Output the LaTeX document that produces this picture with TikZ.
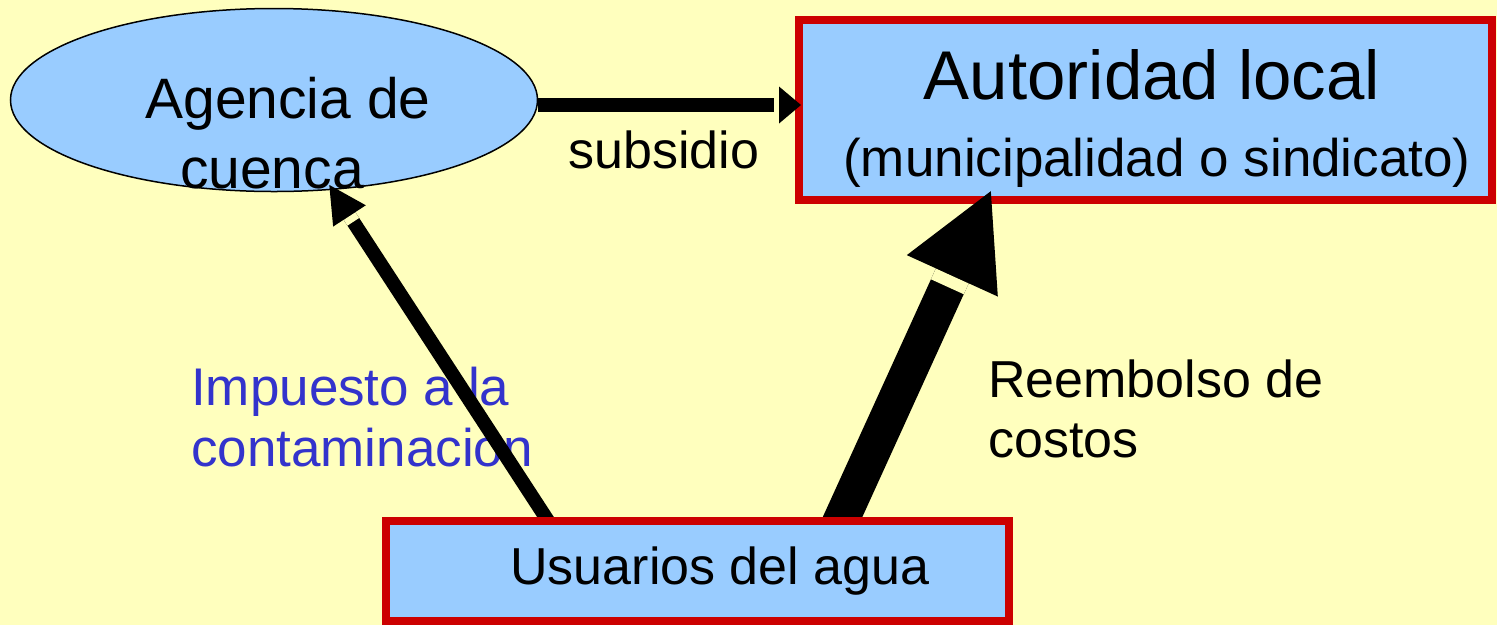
\documentclass[tikz,border=0pt]{standalone}
\usepackage{fontspec}
\setmainfont{Liberation Sans}
\usepackage{tikz}
\usetikzlibrary{positioning, arrows.meta, shapes.geometric}

\definecolor{fondo}{HTML}{FFFFBE}
\definecolor{celeste}{HTML}{99CCFF}
\definecolor{rojo}{HTML}{CC0000}
\definecolor{azul}{HTML}{3333CC}

\pgfdeclarelayer{arriba}
\pgfsetlayers{main,arriba}

\begin{document}
\begin{tikzpicture}[x=1pt, y=-1pt,
    box/.style={draw=rojo, line width=8pt, fill=celeste, inner sep=0pt},
    elip/.style={ellipse, draw, line width=1.5pt, fill=celeste, inner sep=0pt},
    txt/.style={inner sep=0pt, font=\fontsize{52}{60}\selectfont, align=left}]
    \useasboundingbox[fill=fondo] (0,0) rectangle (1497,625);

    \node[elip, minimum width=527pt, minimum height=183pt] (age) at (274,100) {};
    \node[txt, align=center, font=\fontsize{57}{70}\selectfont] (agetxt) at (288,133)
        {Agencia de\\cuenca\hspace*{32pt}};

    \node[box, minimum width=693pt, minimum height=180pt] (aut) at (1145.5,110) {};
    \node[txt, font=\fontsize{69}{80}\selectfont] (autl) at (1152,75)
        {Autoridad local};
    \node[txt, font=\fontsize{53}{60}\selectfont] (autm) at (1157,163)
        {(municipalidad o sindicato)};

    \begin{pgfonlayer}{arriba}
    \node[box, minimum width=623pt, minimum height=100pt] (usu) at (697.5,571) {};
    \node[txt] (usutxt) at (720,571)
        {Usuarios del agua};
    \end{pgfonlayer}

    \node[txt] (sub) at (664,150) {subsidio};
    \node[txt, anchor=north west, text=azul, font=\fontsize{53}{61}\selectfont] (imp) at (191,367)
        {Impuesto a la\\contaminación};
    \node[txt, anchor=north west] (ree) at (988,360)
        {Reembolso de\\costos};

    % flechas
    \coordinate (s0) at ([yshift=-5pt]age.east);
    \draw[line width=14pt, shorten >=-6pt, -{Rectangle[length=5pt, width=14pt, line width=0pt, color=fondo, fill=fondo, sep=0pt]
            Triangle[length=22pt, width=37pt, line width=0pt, sep=0pt]}]
        (s0) -- (s0 -| aut.west);
    \draw[line width=14pt, shorten >=-6pt, -{Rectangle[length=7pt, width=14pt, line width=0pt, color=fondo, fill=fondo, sep=0pt]
            Triangle[length=37pt, width=39pt, line width=0pt, sep=0pt]}]
        ([xshift=-145.5pt, yshift=-10pt]usu.north) -- (age);
    \draw[line width=36pt, shorten >=-2pt, -{Rectangle[length=12pt, width=36pt, line width=0pt, color=fondo, fill=fondo, sep=0pt]
            Triangle[length=93pt, width=100pt, line width=0pt, sep=0pt]}]
        ([xshift=140.5pt, yshift=-10pt]usu.north) -- ([xshift=-155.5pt, yshift=11pt]aut.south);
\end{tikzpicture}
\end{document}
